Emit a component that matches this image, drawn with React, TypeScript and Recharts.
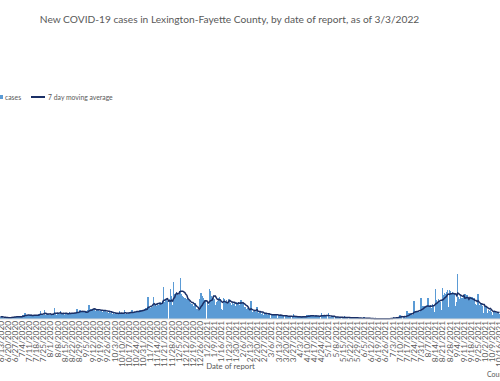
import { ComposedChart, Bar, Line, XAxis, YAxis } from "recharts";

// daily new cases by date of report, first visible day is 6/13/2020
const jun2020 = [22, 25, 18, 12, 10, 14, 11, 13, 12, 15, 20, 24, 19, 22, 25, 18, 21, 23];
const jul2020 = [22, 26, 20, 28, 45, 30, 65, 35, 32, 40, 28, 38, 42, 36, 30, 44, 38, 33, 41, 37, 55, 85, 40, 45, 38, 90, 42, 48, 40, 50, 45];
const aug2020 = [45, 52, 48, 55, 110, 50, 45, 55, 48, 52, 80, 55, 50, 58, 45, 60, 52, 48, 62, 70, 55, 58, 62, 50, 65, 60, 100, 62, 70, 95, 65];
const sep2020 = [70, 75, 80, 68, 25, 85, 90, 145, 95, 100, 85, 90, 105, 80, 95, 88, 100, 85, 80, 90, 75, 85, 78, 95, 70, 75, 65, 72, 60, 68];
const oct2020 = [55, 60, 50, 58, 48, 62, 55, 85, 50, 55, 48, 52, 90, 55, 60, 52, 58, 65, 70, 88, 68, 72, 75, 70, 80, 68, 85, 90, 85, 95, 88];
const nov2020 = [95, 105, 110, 100, 220, 120, 115, 130, 125, 225, 140, 150, 135, 160, 145, 155, 170, 165, 180, 325, 175, 190, 200, 185, 0, 200, 305, 230, 140, 375];
const dec2020 = [250, 230, 270, 260, 240, 280, 415, 250, 230, 220, 210, 130, 200, 190, 180, 160, 140, 150, 130, 120, 165, 70, 100, 90, 0, 200, 260, 230, 210, 195, 180];
const jan2021 = [0, 170, 140, 300, 285, 230, 210, 240, 200, 140, 170, 180, 210, 220, 200, 100, 90, 215, 205, 170, 190, 150, 200, 180, 160, 140, 175, 150, 165, 130, 170];
const feb2021 = [160, 175, 140, 190, 150, 165, 110, 120, 95, 105, 115, 10, 90, 180, 75, 65, 80, 70, 60, 125, 65, 55, 70, 50, 60, 45, 65, 55];
const mar2021 = [50, 45, 55, 48, 10, 45, 52, 40, 50, 55, 42, 8, 40, 35, 45, 38, 32, 36, 5, 30, 35, 28, 32, 26, 30, 5, 22, 50, 25, 20, 24];
const apr2021 = [20, 5, 22, 28, 25, 32, 20, 24, 5, 45, 35, 38, 42, 32, 36, 5, 34, 30, 36, 32, 35, 28, 5, 65, 35, 32, 38, 30, 34, 5];
const may2021 = [65, 25, 22, 28, 20, 24, 4, 20, 22, 18, 24, 19, 21, 3, 15, 14, 27, 13, 16, 12, 2, 14, 12, 15, 11, 13, 12, 2, 16, 12, 9];
const jun2021 = [12, 5, 4, 6, 25, 4, 3, 5, 2, 6, 4, 3, 5, 4, 2, 3, 5, 4, 3, 2, 4, 5, 3, 2, 4, 3, 5, 4, 3, 4];
const jul2021 = [8, 12, 6, 25, 10, 14, 15, 10, 18, 42, 38, 30, 3, 18, 20, 15, 80, 55, 60, 50, 65, 45, 10, 185, 75, 80, 70, 78, 72, 30, 215];
const aug2021 = [130, 120, 135, 125, 118, 60, 215, 120, 140, 110, 150, 130, 70, 305, 190, 175, 200, 185, 170, 90, 315, 240, 260, 250, 270, 290, 120, 295, 285, 260, 270];
const sep2021 = [265, 255, 130, 175, 455, 220, 200, 230, 210, 100, 245, 250, 235, 240, 225, 90, 215, 205, 220, 200, 210, 150, 90, 145, 255, 140, 130, 150, 135, 60];
const oct2021 = [140, 135, 130, 60, 95, 85, 90, 75, 40, 80, 70, 75, 65, 60, 70, 55];

const cases = [
  ...jun2020, ...jul2020, ...aug2020, ...sep2020, ...oct2020, ...nov2020, ...dec2020,
  ...jan2021, ...feb2021, ...mar2021, ...apr2021, ...may2021, ...jun2021, ...jul2021,
  ...aug2021, ...sep2021, ...oct2021,
];

const dates = cases.map((_, i) => {
  const d = new Date(2020, 5, 13 + i);
  return `${d.getMonth() + 1}/${d.getDate()}/${d.getFullYear()}`;
});

// trailing 7 day average of the daily counts
const movingAvg = cases.map((_, i) => {
  const w = cases.slice(Math.max(0, i - 6), i + 1);
  return w.reduce((a, b) => a + b, 0) / w.length;
});

const data = dates.map((date, i) => ({ date, cases: cases[i], avg: movingAvg[i] }));

const grey = "#595959";
const blue = "#5B9BD5";
const navy = "#1A2F66";
const font = "Lato, 'Noto Sans', sans-serif";

const DateTick = ({ x, payload }: any) => (
  <text
    x={x}
    y={321}
    transform={`rotate(-90 ${x} 321)`}
    textAnchor="end"
    dominantBaseline="central"
    fontSize={8.3}
    fill={grey}
    fontFamily={font}
  >
    {payload.value}
  </text>
);

// crisp, slightly widened columns so one-pixel bars do not leave pale seams
const Column = ({ x, y, width, height }: any) =>
  height > 0 ? (
    <rect x={x - 0.2} y={y} width={width + 0.4} height={height} fill={blue} shapeRendering="crispEdges" />
  ) : null;

export default function App() {
  return (
    <div style={{ position: "absolute", left: 0, top: 0, width: 500, height: 381, overflow: "hidden", background: "#fff", fontFamily: font }}>
      <div style={{ position: "absolute", top: 13, left: 0, width: 459, textAlign: "center", fontSize: 10.2, color: grey, whiteSpace: "nowrap" }}>
        New COVID-19 cases in Lexington-Fayette County, by date of report, as of 3/3/2022
      </div>
      <div style={{ position: "absolute", top: 93, left: 0, display: "flex", alignItems: "center", fontSize: 6.8, color: grey, whiteSpace: "nowrap" }}>
        <span style={{ display: "inline-block", width: 4, height: 4, background: blue, marginLeft: -1, marginRight: 2 }} />
        <span>cases</span>
        <span style={{ display: "inline-block", width: 14, height: 1.3, background: navy, marginLeft: 10, marginRight: 3 }} />
        <span>7 day moving average</span>
      </div>
      <ComposedChart width={500} height={381} data={data} margin={{ top: 119, right: 0, left: 0, bottom: 0 }} barCategoryGap="0%" barGap={0}>
        <XAxis dataKey="date" interval={6} tick={<DateTick />} tickLine={false} axisLine={{ stroke: "#D9D9D9" }} height={62} />
        <YAxis hide domain={[0, 2000]} />
        <Bar dataKey="cases" fill={blue} shape={<Column />} isAnimationActive={false} />
        <Line dataKey="avg" type="linear" stroke={navy} strokeWidth={1.5} dot={false} isAnimationActive={false} />
      </ComposedChart>
      <div style={{ position: "absolute", top: 361, left: 0, width: 461, textAlign: "center", fontSize: 7.8, color: grey }}>
        Date of report
      </div>
      <div style={{ position: "absolute", top: 370, left: 487, fontSize: 7, color: grey, whiteSpace: "nowrap" }}>
        County
      </div>
    </div>
  );
}
